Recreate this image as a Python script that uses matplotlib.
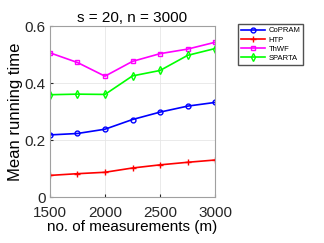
import matplotlib
matplotlib.use('Agg')
from matplotlib import pyplot as plt

plt.rcParams['font.family'] = ['Liberation Sans', 'DejaVu Sans']

m = [1500, 1750, 2000, 2250, 2500, 2750, 3000]
copram = [0.218, 0.223, 0.238, 0.272, 0.298, 0.319, 0.332]
htp = [0.076, 0.082, 0.087, 0.102, 0.113, 0.122, 0.130]
thwf = [0.506, 0.472, 0.424, 0.476, 0.503, 0.519, 0.543]
sparta = [0.359, 0.361, 0.360, 0.425, 0.444, 0.497, 0.521]

fig = plt.figure(figsize=(3.24, 2.43), dpi=100)
ax = fig.add_axes([0.154, 0.189, 0.51, 0.704])

ax.plot(m, copram, color='#0000ff', marker='o', ms=3.5, mfc='none', mew=1, lw=1.2, label='CoPRAM')
ax.plot(m, htp, color='#ff0000', marker='+', ms=4, mew=1, lw=1.2, label='HTP')
ax.plot(m, thwf, color='#ff00ff', marker='s', ms=3.5, mfc='none', mew=1, lw=1.2, label='ThWF')
ax.plot(m, sparta, color='#00ff00', marker='d', ms=4, mfc='none', mew=1, lw=1.2, label='SPARTA')

ax.set_xlim(1500, 3000)
ax.set_ylim(0, 0.6)
ax.set_xticks([1500, 2000, 2500, 3000])
ax.set_yticks([0, 0.2, 0.4, 0.6])
ax.set_yticklabels(['0', '0.2', '0.4', '0.6'])
ax.grid(True, color='#e6e6e6', lw=0.6)
ax.set_axisbelow(True)
ax.tick_params(direction='in', length=2, labelsize=11, colors='#262626')
ax.tick_params(axis='x', pad=6.5)
ax.tick_params(axis='y', pad=3)
for s in ax.spines.values():
    s.set_color('#a0a0a0')
    s.set_linewidth(0.8)

ax.set_title('s = 20, n = 3000', fontsize=11, pad=3)
ax.set_xlabel('no. of measurements (m)', fontsize=11, labelpad=0)
ax.set_ylabel('Mean running time', fontsize=12, labelpad=1)

fig.legend(loc='upper left', bbox_to_anchor=(0.735, 0.9), fontsize=5.5,
           frameon=True, fancybox=False, edgecolor='#262626', handlelength=3.2,
           borderpad=0.35, labelspacing=0.25, handletextpad=0.4, borderaxespad=0)

plt.savefig('out.png', dpi=100)
